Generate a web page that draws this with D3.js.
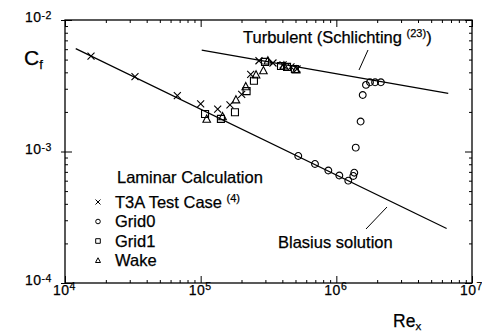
<!DOCTYPE html>
<html>
<head>
<meta charset="utf-8">
<script src="https://cdn.jsdelivr.net/npm/d3@7/dist/d3.min.js"></script>
<style>
  html, body { margin: 0; padding: 0; background: #fff; }
  svg { display: block; }
  text { font-family: "Liberation Sans", Arial, Helvetica, sans-serif; fill: #000; stroke: #000; stroke-width: 0.25; }
</style>
</head>
<body>
<svg id="chart" width="482" height="331"></svg>
<script>
// Skin friction coefficient Cf vs. Reynolds number Re_x

// T3A test case (experiment)
const t3aRe = [1.555e4, 3.28e4, 6.73e4, 1.0e5, 1.335e5, 1.644e5, 2.006e5, 2.338e5, 2.69e5, 3.41e5, 4.05e5, 4.63e5, 5.13e5];
const t3aCf = [5.32e-3, 3.71e-3, 2.66e-3, 2.30e-3, 2.10e-3, 2.26e-3, 2.72e-3, 3.86e-3, 4.90e-3, 4.71e-3, 4.55e-3, 4.40e-3, 4.24e-3];

// Grid0 calculation
const grid0Re = [5.24e5, 6.96e5, 8.73e5, 1.052e6, 1.225e6, 1.334e6, 1.356e6, 1.39e6, 1.51e6, 1.565e6, 1.654e6, 1.77e6, 1.93e6, 2.13e6];
const grid0Cf = [9.25e-4, 8.04e-4, 7.17e-4, 6.57e-4, 6.00e-4, 6.52e-4, 6.90e-4, 1.07e-3, 1.69e-3, 2.69e-3, 3.21e-3, 3.36e-3, 3.36e-3, 3.36e-3];

// Grid1 calculation
const grid1Re = [1.077e5, 1.41e5, 1.79e5, 2.18e5, 2.47e5, 2.98e5, 3.91e5, 4.33e5, 4.95e5];
const grid1Cf = [1.93e-3, 1.77e-3, 1.99e-3, 2.88e-3, 3.45e-3, 4.80e-3, 4.47e-3, 4.40e-3, 4.24e-3];

// Wake calculation
const wakeRe = [1.108e5, 1.45e5, 1.82e5, 2.15e5, 2.56e5, 2.90e5, 3.13e5, 4.11e5, 5.05e5];
const wakeCf = [1.76e-3, 1.84e-3, 2.47e-3, 3.11e-3, 3.82e-3, 4.11e-3, 4.88e-3, 4.47e-3, 4.17e-3];

// Reference correlations (straight lines on log-log axes, end points)
const blasiusRe = [1.2e4, 6.5e6];
const blasiusCf = [6.06e-3, 2.60e-4];
const turbRe = [1.018e5, 6.68e6];
const turbCf = [5.91e-3, 2.77e-3];

// Axis ticks
const xMajor = [1e4, 1e5, 1e6, 1e7];
const xMajorExp = ["4", "5", "6", "7"];
const yMajor = [1e-2, 1e-3, 1e-4];
const yMajorExp = ["-2", "-3", "-4"];

const svg = d3.select("#chart");
const x = d3.scaleLog().domain([1e4, 1e7]).range([65, 472]);
const y = d3.scaleLog().domain([1e-4, 1e-2]).range([283, 20]);

const minorOf = (majors) => {
  const out = [];
  for (let i = 0; i < majors.length - 1; i++) {
    const lo = Math.min(majors[i], majors[i + 1]);
    for (let k = 2; k <= 9; k++) out.push(k * lo);
  }
  return out;
};
const xMinor = minorOf(xMajor);
const yMinor = minorOf(yMajor);

function styleAxis(g) {
  g.select(".domain").remove();
  g.selectAll("line").attr("stroke", "#000").attr("stroke-width", 1);
}

// Ticks on all four sides, pointing inward
svg.append("g").attr("transform", "translate(0,283)")
  .call(d3.axisBottom(x).tickValues(xMinor).tickSize(-3).tickFormat("")).call(styleAxis);
svg.append("g").attr("transform", "translate(0,283)")
  .call(d3.axisBottom(x).tickValues(xMajor).tickSize(-7).tickFormat("")).call(styleAxis);
svg.append("g").attr("transform", "translate(0,20)")
  .call(d3.axisTop(x).tickValues(xMinor).tickSize(-3).tickFormat("")).call(styleAxis);
svg.append("g").attr("transform", "translate(0,20)")
  .call(d3.axisTop(x).tickValues(xMajor).tickSize(-7).tickFormat("")).call(styleAxis);
svg.append("g").attr("transform", "translate(65,0)")
  .call(d3.axisLeft(y).tickValues(yMinor).tickSize(-3).tickFormat("")).call(styleAxis);
svg.append("g").attr("transform", "translate(65,0)")
  .call(d3.axisLeft(y).tickValues(yMajor).tickSize(-7).tickFormat("")).call(styleAxis);
svg.append("g").attr("transform", "translate(65,0)")
  .call(d3.axisLeft(y).tickValues(yMajor).tickSize(4).tickFormat("")).call(styleAxis);
svg.append("g").attr("transform", "translate(472,0)")
  .call(d3.axisRight(y).tickValues(yMinor).tickSize(-3).tickFormat("")).call(styleAxis);
svg.append("g").attr("transform", "translate(472,0)")
  .call(d3.axisRight(y).tickValues(yMajor).tickSize(-7).tickFormat("")).call(styleAxis);

// Frame
svg.append("rect")
  .attr("x", 65).attr("y", 20).attr("width", 472 - 65).attr("height", 283 - 20)
  .attr("fill", "none").attr("stroke", "#000").attr("stroke-width", 1.3);

// Tick labels as powers of ten
xMajor.forEach((v, i) => {
  const t = svg.append("text").attr("x", x(v) - 12).attr("y", 295)
    .attr("font-size", 14).attr("letter-spacing", 0.5);
  t.append("tspan").text("10");
  t.append("tspan").attr("font-size", 10.5).attr("dy", -5).text(xMajorExp[i]);
});
yMajor.forEach((v, i) => {
  const t = svg.append("text").attr("x", 25).attr("y", y(v) + 2)
    .attr("font-size", 14).attr("letter-spacing", 0.5);
  t.append("tspan").text("10");
  t.append("tspan").attr("font-size", 10.5).attr("dy", -3).text(yMajorExp[i]);
});

// Axis titles
const cf = svg.append("text").attr("x", 24).attr("y", 65).attr("font-size", 21);
cf.append("tspan").text("C");
cf.append("tspan").attr("font-size", 13).attr("dy", 4).text("f");
const rex = svg.append("text").attr("x", 393).attr("y", 327).attr("font-size", 17.5);
rex.append("tspan").text("Re");
rex.append("tspan").attr("font-size", 11.5).attr("dy", 3).text("x");

// Correlation lines
const line = d3.line().x(d => x(d[0])).y(d => y(d[1]));
svg.append("path").datum(d3.zip(blasiusRe, blasiusCf)).attr("d", line)
  .attr("fill", "none").attr("stroke", "#000").attr("stroke-width", 1.2);
svg.append("path").datum(d3.zip(turbRe, turbCf)).attr("d", line)
  .attr("fill", "none").attr("stroke", "#000").attr("stroke-width", 1.2);

// Correlation labels with leader lines
const tl = svg.append("text").attr("x", 243).attr("y", 43).attr("font-size", 16.5);
tl.append("tspan").text("Turbulent (Schlichting ");
tl.append("tspan").attr("font-size", 11).attr("dy", -6).text("(23)");
tl.append("tspan").attr("dy", 6).text(")");
svg.append("line").attr("x1", 368).attr("y1", 50).attr("x2", 359).attr("y2", 70)
  .attr("stroke", "#000").attr("stroke-width", 1);

svg.append("text").attr("x", 278).attr("y", 248).attr("font-size", 16.5).text("Blasius solution");
svg.append("line").attr("x1", 387).attr("y1", 207).attr("x2", 366).attr("y2", 229)
  .attr("stroke", "#000").attr("stroke-width", 1);

// Marker shapes
const shapes = {
  cross: s => `M${-s},${-s}L${s},${s}M${-s},${s}L${s},${-s}`,
  circle: s => `M${s},0A${s},${s} 0 1,1 ${-s},0A${s},${s} 0 1,1 ${s},0Z`,
  square: s => `M${-s},${-s}H${s}V${s}H${-s}Z`,
  triangle: s => `M0,${-s * 1.1}L${s},${s * 0.8}L${-s},${s * 0.8}Z`
};

function plotSeries(res, cfs, shape, size) {
  svg.append("g").selectAll("path").data(d3.zip(res, cfs)).join("path")
    .attr("transform", d => `translate(${x(d[0])},${y(d[1])})`)
    .attr("d", shapes[shape](size))
    .attr("fill", "none").attr("stroke", "#000").attr("stroke-width", 1.1);
}
plotSeries(grid1Re, grid1Cf, "square", 3.5);
plotSeries(wakeRe, wakeCf, "triangle", 3.8);
plotSeries(grid0Re, grid0Cf, "circle", 3.4);
plotSeries(t3aRe, t3aCf, "cross", 3.5);

// Legend
svg.append("text").attr("x", 117).attr("y", 183).attr("font-size", 16.5).text("Laminar Calculation");
const legend = [
  { shape: "cross", size: 2.5, label: "T3A Test Case ", sup: "(4)" },
  { shape: "circle", size: 2.3, label: "Grid0" },
  { shape: "square", size: 2.3, label: "Grid1" },
  { shape: "triangle", size: 2.5, label: "Wake" }
];
legend.forEach((d, i) => {
  const cy = 202 + i * 19.5;
  svg.append("path").attr("transform", `translate(98,${cy})`)
    .attr("d", shapes[d.shape](d.size))
    .attr("fill", "none").attr("stroke", "#000").attr("stroke-width", 1);
  const t = svg.append("text").attr("x", 115).attr("y", cy + 5.5).attr("font-size", 16.5);
  t.append("tspan").text(d.label);
  if (d.sup) t.append("tspan").attr("font-size", 11).attr("dy", -6).text(d.sup);
});
</script>
</body>
</html>
